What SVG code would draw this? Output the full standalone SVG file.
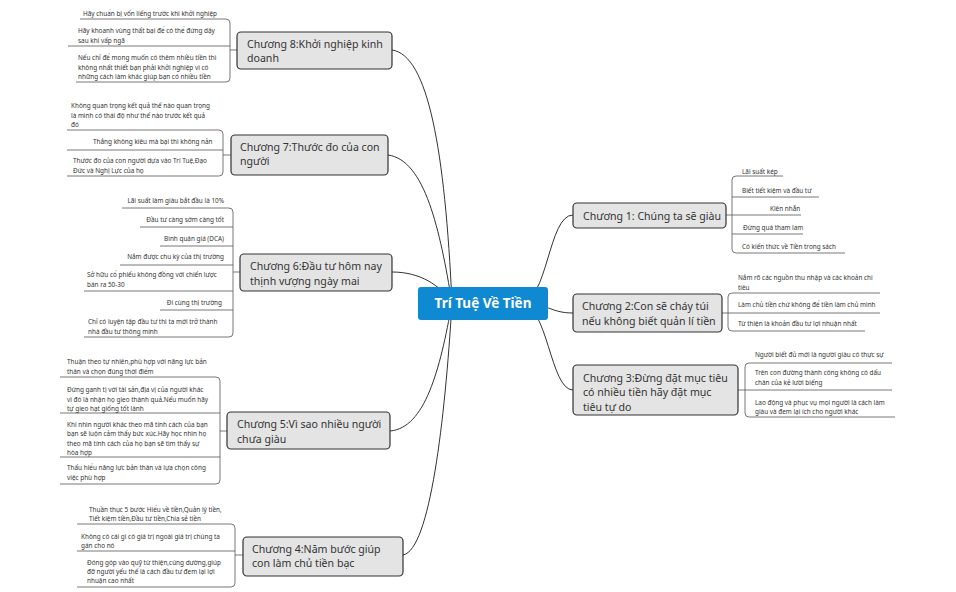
<svg xmlns="http://www.w3.org/2000/svg" width="956" height="592" viewBox="0 0 956 592">
<style>
.ch{fill:#e4e4e4;stroke:#333;stroke-width:1.2}
.ct{font-family:"Noto Sans","DejaVu Sans",sans-serif;font-size:10.6px;fill:#333}
.lt{font-family:"Noto Sans","DejaVu Sans",sans-serif;font-size:6.4px;fill:#333}
.ln{fill:none;stroke:#555;stroke-width:0.8}
.mc{fill:none;stroke:#333;stroke-width:1}
</style>
<rect width="956" height="592" fill="#fff"/>
<g id="connectors">
<path class="mc" d="M392,50 C428,55 445,150 452,303"/>
<path class="mc" d="M388,155 C425,160 440,230 452,303"/>
<path class="mc" d="M392,272 C420,272 440,285 452,303"/>
<path class="mc" d="M390,431 C425,428 440,370 452,303"/>
<path class="mc" d="M403,555 C430,550 445,420 452,303"/>
<path class="mc" d="M520,303 C548,303 548,215 573,215"/>
<path class="mc" d="M520,303 C548,303 550,313 573,313"/>
<path class="mc" d="M520,303 C548,303 550,390 573,390"/>
<path class="ln" d="M80,19 H226 Q230,19 230,23 V78 Q230,82 226,82 H76 M68,46 H230 M230,50 H237"/>
<path class="ln" d="M67,130 H219 Q223,130 223,134 V172 Q223,176 219,176 H67 M67,150 H223 M223,155 H231"/>
<path class="ln" d="M122,208 H229 Q233,208 233,212 V333 Q233,337 229,337 H84 M140,227 H233 M160,246 H233 M120,265 H233 M84,291 H233 M160,310 H233 M233,272 H240"/>
<path class="ln" d="M60,377 H216 Q220,377 220,381 V480 Q220,484 216,484 H60 M60,413 H220 M60,457 H220 M220,431 H227"/>
<path class="ln" d="M77,524 H231 Q235,524 235,528 V583 Q235,587 231,587 H77 M77,551 H235 M235,555 H243"/>
<path class="ln" d="M783,176 H736 Q732,176 732,180 V249 Q732,253 736,253 H845 M732,197 H819 M726,215 H801 M732,234 H803"/>
<path class="ln" d="M880,293 H732 Q728,293 728,297 V327 Q728,331 732,331 H865 M722,313 H880"/>
<path class="ln" d="M892,363 H749 Q745,363 745,367 V413 Q745,417 749,417 H895 M738,390 H892"/>
</g>
<g id="center"><rect x="418" y="287" width="130" height="33" rx="3" fill="#0f8ad2"/><text x="483" y="308" text-anchor="middle" font-family="Noto Sans,DejaVu Sans,sans-serif" font-size="13.5" font-weight="bold" fill="#fff">Trí Tuệ Về Tiền</text></g>
<g id="ch8"><rect class="ch" x="237" y="32" width="155" height="37" rx="4"/><text class="ct" x="247" y="48">Chương 8:Khởi nghiệp kinh</text><text class="ct" x="247" y="62">doanh</text>
<text class="lt" x="83" y="16">Hãy chuẩn bị vốn liếng trước khi khởi nghiệp</text>
<text class="lt" x="78" y="33">Hãy khoanh vùng thất bại để có thể đứng dậy</text><text class="lt" x="78" y="43">sau khi vấp ngã</text>
<text class="lt" x="78" y="60">Nếu chỉ để mong muốn có thêm nhiều tiền thì</text><text class="lt" x="78" y="70">không nhất thiết bạn phải khởi nghiệp vì có</text><text class="lt" x="78" y="79">những cách làm khác giúp bạn có nhiều tiền</text></g>
<g id="ch7"><rect class="ch" x="231" y="135" width="157" height="40" rx="4"/><text class="ct" x="240" y="151">Chương 7:Thước đo của con</text><text class="ct" x="240" y="165">người</text>
<text class="lt" x="71" y="108">Không quan trọng kết quả thế nào quan trọng</text><text class="lt" x="71" y="118">là mình có thái độ như thế nào trước kết quả</text><text class="lt" x="71" y="127">đó</text>
<text class="lt" x="93" y="144">Thắng không kiêu mà bại thì không nản</text>
<text class="lt" x="73" y="163">Thước đo của con người dựa vào Trí Tuệ,Đạo</text><text class="lt" x="73" y="173">Đức và Nghị Lực của họ</text></g>
<g id="ch6"><rect class="ch" x="240" y="254" width="152" height="37" rx="4"/><text class="ct" x="250" y="270">Chương 6:Đầu tư hôm nay</text><text class="ct" x="250" y="285">thịnh vượng ngày mai</text>
<text class="lt" x="224" y="203" text-anchor="end">Lãi suất làm giàu bắt đầu là 10%</text>
<text class="lt" x="224" y="222" text-anchor="end">Đầu tư càng sớm càng tốt</text>
<text class="lt" x="224" y="241" text-anchor="end">Bình quân giá (DCA)</text>
<text class="lt" x="224" y="259" text-anchor="end">Nắm được chu kỳ của thị trường</text>
<text class="lt" x="87" y="277">Sở hữu cổ phiếu không đồng với chiến lược</text><text class="lt" x="87" y="287">bán ra 50-30</text>
<text class="lt" x="222" y="305" text-anchor="end">Đi cùng thị trường</text>
<text class="lt" x="88" y="324">Chỉ có luyện tập đầu tư thì ta mới trở thành</text><text class="lt" x="88" y="334">nhà đầu tư thông minh</text></g>
<g id="ch5"><rect class="ch" x="227" y="412" width="163" height="37" rx="4"/><text class="ct" x="237" y="428">Chương 5:Vì sao nhiều người</text><text class="ct" x="237" y="443">chưa giàu</text>
<text class="lt" x="67" y="364">Thuận theo tự nhiên,phù hợp với năng lực bản</text><text class="lt" x="67" y="374">thân và chọn đúng thời điểm</text>
<text class="lt" x="67" y="392">Đừng ganh tị với tài sản,địa vị của người khác</text><text class="lt" x="67" y="402">vì đó là nhận họ gieo thành quả.Nếu muốn hãy</text><text class="lt" x="67" y="411">tự gieo hạt giống tốt lành</text>
<text class="lt" x="67" y="427">Khi nhìn người khác theo mã tính cách của bạn</text><text class="lt" x="67" y="436">bạn sẽ luộn cảm thấy bức xúc.Hãy học nhìn họ</text><text class="lt" x="67" y="446">theo mã tính cách của họ bạn sẽ tìm thấy sự</text><text class="lt" x="67" y="455">hòa hợp</text>
<text class="lt" x="67" y="470">Thấu hiểu năng lực bản thân và lựa chọn công</text><text class="lt" x="67" y="480">việc phù hợp</text></g>
<g id="ch4"><rect class="ch" x="243" y="537" width="160" height="39" rx="4"/><text class="ct" x="252" y="553">Chương 4:Năm bước giúp</text><text class="ct" x="252" y="567">con làm chủ tiền bạc</text>
<text class="lt" x="89" y="512">Thuần thục 5 bước Hiểu về tiền,Quản lý tiền,</text><text class="lt" x="89" y="521">Tiết kiệm tiền,Đầu tư tiền,Chia sẻ tiền</text>
<text class="lt" x="81" y="539">Không có cái gì có giá trị ngoài giá trị chúng ta</text><text class="lt" x="81" y="548">gán cho nó</text>
<text class="lt" x="87" y="565">Đóng góp vào quỹ từ thiện,cúng dường,giúp</text><text class="lt" x="87" y="574">đỡ người yếu thế là cách đầu tư đem lại lợi</text><text class="lt" x="87" y="583">nhuận cao nhất</text></g>
<g id="ch1"><rect class="ch" x="573" y="203" width="153" height="25" rx="4"/><text class="ct" x="583" y="220">Chương 1: Chúng ta sẽ giàu</text>
<text class="lt" x="742" y="174">Lãi suất kép</text>
<text class="lt" x="742" y="193">Biết tiết kiệm và đầu tư</text>
<text class="lt" x="770" y="211">Kiên nhẫn</text>
<text class="lt" x="743" y="230">Đừng quá tham lam</text>
<text class="lt" x="742" y="249">Có kiến thức về Tiền trong sách</text></g>
<g id="ch2"><rect class="ch" x="573" y="294" width="149" height="38" rx="4"/><text class="ct" x="582" y="310">Chương 2:Con sẽ cháy túi</text><text class="ct" x="582" y="325">nếu không biết quản lí tiền</text>
<text class="lt" x="738" y="280">Nắm rõ các nguồn thu nhập và các khoản chi</text><text class="lt" x="738" y="290">tiêu</text>
<text class="lt" x="738" y="307">Làm chủ tiền chứ không để tiền làm chủ mình</text>
<text class="lt" x="738" y="326">Từ thiện là khoản đầu tư lợi nhuận nhất</text></g>
<g id="ch3"><rect class="ch" x="573" y="365" width="165" height="50" rx="4"/><text class="ct" x="583" y="382">Chương 3:Đừng đặt mục tiêu</text><text class="ct" x="583" y="396">có nhiều tiền hãy đặt mục</text><text class="ct" x="583" y="411">tiêu tự do</text>
<text class="lt" x="755" y="357">Người biết đủ mới là người giàu có thực sự</text>
<text class="lt" x="755" y="375">Trên con đường thành công không có dấu</text><text class="lt" x="755" y="385">chân của kẻ lười biếng</text>
<text class="lt" x="755" y="405">Lao động và phục vụ mọi người là cách làm</text><text class="lt" x="755" y="414">giàu và đem lại ích cho người khác</text></g>
</svg>
